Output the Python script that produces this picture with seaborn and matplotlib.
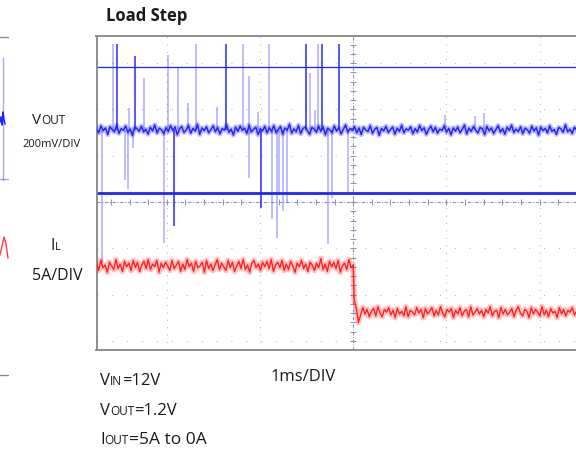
"""Load step scope capture: VOUT ripple and inductor current during a 5A -> 0A load release."""

import matplotlib
matplotlib.use("Agg")
import matplotlib.pyplot as plt
import numpy as np
import seaborn as sns

W, H = 576, 450

# Scope channel settings
VOUT_MV_PER_DIV = 200
IL_A_PER_DIV = 5
VOUT_POS_DIV = 1.555     # where the 1.2 V level sits on screen
IL_ZERO_DIV = -2.38      # 0 A level on screen

# VOUT ripple around 1.2 V (mV), sampled across the screen
vout_ripple_mv = [
    5, -12, 18, -3, 9, -20, 14, 2, -8, 21, -15, 6, -1, 17, -10, 4, -23, 11, 7, -6,
    16, -9, 3, -18, 12, -4, 22, -13, 8, 0, -16, 10, -7, 19, -2, 13, -21, 5, 15, -11,
    1, 20, -14, 7, -5, 24, -19, 9, -3, 14, -12, 2, 18, -8, 11, -17, 6, -1, 23, -10,
    4, -22, 13, -6, 17, -2, 8, -15, 21, -9, 3, 12, -20, 6, -4, 16, -13, 10, -7, 19,
    -11, 2, 15, -18, 9, -1, 25, -14, 5, -8, 20, -16, 7, 12, -3, -19, 11, 4, -10, 17,
    -6, 14, -21, 8, 1, -12, 18, -5, 10, -17, 3, 22, -9, 6, -2, 15, -13, 9, -20, 12,
    0, -7, 19, -15, 4, 11, -23, 7, -4, 16, -11, 2, 13, -18, 8, -6, 21, -12, 5, -1,
    14, -16, 6, -9, 20, -3, 10, -19, 1, 17, -8, 12, -14, 4, -2, 18, -10, 7, -21, 9,
    -5, 13, -12, 3, 22, -17, 8, -6, 15, -1, -13, 11, 5, -20, 16, -4, 9, -15, 2, 19,
    -9, 6, -18, 12, -2, 21, -11, 4, -7, 14, -16, 8, 1, -14, 17, -5, 10, -22, 13, -3,
    7, -13, 18, -6, 2, -19, 11, 5, -10, 23, -8, 3, -15, 12, -1, 16, -12, 6, -4, 20,
    -14, 9, -2, 15, -20, 4, 13, -7, 1, -16, 19, -9, 8, -3, 12, -18, 5, 10, -11, 3,
]

# VOUT switching spikes: time (ms) and peak excursion (mV)
spike_t_ms = [
    -2.695, -2.577, -2.534, -2.445, -2.416, -2.402, -2.362, -2.338, -2.245, -2.027,
    -1.987, -1.920, -1.880, -1.769, -1.684, -1.462, -1.362, -1.183, -1.118, -1.118,
    -1.019, -0.990, -0.901, -0.872, -0.818, -0.794, -0.751, -0.708, -0.504, -0.461,
    -0.408, -0.375, -0.336, -0.268, -0.225, -0.150, -0.054, 0.987, 1.308, 1.405,
]
spike_peak_mv = [
    -575, 370, 370, -216, -255, 95, -78, 320, 225, -488,
    324, -415, 268, 117, 370, 99, 370, 370, 233, -207,
    78, -337, 370, -384, -467, -281, -350, -315, 370, 246,
    86, 370, 370, -492, -294, 370, -281, 65, 61, 74,
]

# Inductor current: level (A) and noise on it (A), before and after t = 0
il_level_before_a = 5.0
il_level_after_a = 0.0
il_noise_before_a = [
    0.3, -0.5, 0.6, -0.2, 0.1, -0.7, 0.4, 0.0, -0.4, 0.7, -0.3, 0.2, -0.6, 0.5, -0.1, 0.3, -0.5, 0.6, -0.2, 0.4,
    -0.6, 0.1, 0.5, -0.3, 0.7, -0.4, 0.2, -0.1, 0.6, -0.7, 0.3, -0.2, 0.4, 0.0, -0.5, 0.6, -0.3, 0.1, 0.5, -0.6,
    0.2, -0.4, 0.7, -0.1, 0.3, -0.6, 0.5, -0.2, 0.0, 0.4, -0.7, 0.6, -0.3, 0.2, -0.5, 0.1, 0.7, -0.4, 0.3, -0.1,
    -0.5, 0.6, -0.2, 0.4, -0.6, 0.0, 0.5, -0.3, 0.7, -0.4, 0.1, -0.7, 0.3, 0.6, -0.2, 0.2, -0.5, 0.4, -0.1, 0.5,
    -0.3, 0.7, -0.6, 0.1, 0.4, -0.2, 0.6, -0.5, 0.2, -0.4, 0.5, 0.0, -0.7, 0.3, -0.1, 0.6, -0.3, 0.2, -0.6, 0.4,
    0.1, -0.5, 0.3, -0.2, 0.8, -0.4, 0.2, -0.6, 0.5, -0.1, 0.4, -0.3, 0.6, -0.7, 0.0, 0.3, -0.4, 0.7, -0.2, 0.1,
]
il_noise_after_a = [
    1.4, 0.4, -1.1, -0.3, 0.5, -0.2, 0.3, -0.5, 0.1, 0.4, -0.4, 0.6, -0.1, -0.5, 0.3, 0.0, 0.5, -0.3, 0.2, -0.6,
    0.4, -0.2, 0.1, -0.4, 0.6, -0.5, 0.2, 0.0, -0.3, 0.5, -0.1, 0.3, -0.6, 0.4, -0.2, 0.1, 0.5, -0.4, 0.2, -0.3,
    0.6, -0.1, -0.5, 0.3, 0.0, 0.4, -0.6, 0.2, -0.2, 0.5, -0.4, 0.1, 0.3, -0.5, 0.6, -0.3, 0.0, 0.4, -0.2, 0.2,
    -0.5, 0.3, -0.1, 0.6, -0.4, 0.1, 0.2, -0.6, 0.5, -0.2, 0.3, -0.3, 0.0, 0.4, -0.5, 0.2, 0.6, -0.1, -0.4, 0.3,
    0.1, -0.6, 0.5, -0.2, 0.3, 0.0, -0.4, 0.6, -0.3, 0.2, -0.5, 0.4, -0.1, 0.1, -0.6, 0.5, -0.2, 0.3, -0.4, 0.2,
    0.0, 0.5, -0.3, 0.1, -0.5, 0.4, -0.2, 0.6, -0.6, 0.2, 0.3, -0.4, 0.1, -0.1, 0.5, -0.3, 0.2, -0.5, 0.4, 0.0,
    -0.2, 0.6, -0.4, 0.2, 0.1, -0.5, 0.3, -0.1, 0.5, -0.3,
]

# Cursor lines (div)
cursor_thin_div = 2.92
cursor_thick_div = 0.19

# Edge of the neighbouring capture that is cut off on the left (pixels)
frag_blue_x = [0, 1, 2, 3, 4, 5]
frag_blue_y = [122, 117, 125, 112, 120, 124]
frag_red_x = [0, 2, 4, 6, 8]
frag_red_y = [255, 246, 237, 244, 258]

BLUE = "#2424ff"
RED = "#ff1010"
GRID = "#a4aac0"
TEXT = "#1a1a1a"

sns.set_theme(style="white")
plt.rcParams["font.family"] = ["Open Sans", "DejaVu Sans"]

fig = plt.figure(figsize=(W / 100, H / 100), dpi=100)
fig.patch.set_facecolor("white")

# main screen; extends past the right edge of the picture like the crop
x0, x1 = -2.755, 3.0
y0, y1 = -3.197, 3.596
left_px, right_px = 96.5, 353 + x1 * 93.25
ax = fig.add_axes([left_px / W, (H - 350) / H, (right_px - left_px) / W, (350 - 35.5) / H])
ax.set_xlim(x0, x1)
ax.set_ylim(y0, y1)
ax.set_xticks([])
ax.set_yticks([])
for sp in ax.spines.values():
    sp.set_color("#858585")
    sp.set_linewidth(1.3)

# graticule
for t in [-2, -1, 1, 2]:
    ax.axvline(t, color=GRID, lw=0.8, ls=(0, (0.8, 5.9)), zorder=0)
for d in [-3, -2, -1, 1, 2, 3]:
    ax.axhline(d, color=GRID, lw=0.8, ls=(0, (0.8, 12.6)), zorder=0)
ax.axhline(0, color="#8d93aa", lw=0.8, ls=(0, (3, 1.5, 0.8, 1.5)), zorder=0)
ax.axvline(0, color="#8d93aa", lw=0.8, ls=(0, (3, 1.5, 0.8, 1.5)), zorder=0)
ticks_h = np.arange(-2.6, 3.0, 0.2)
ticks_v = np.arange(-3.0, 3.6, 0.2)
ax.plot(ticks_h, np.zeros(len(ticks_h)), ls="none", marker="|", ms=4, mew=0.7,
        color="#8d93aa", zorder=0)
ax.plot(np.zeros(len(ticks_v)), ticks_v, ls="none", marker="_", ms=4, mew=0.7,
        color="#8d93aa", zorder=0)

# cursors
ax.axhline(cursor_thin_div, color=BLUE, lw=0.9, zorder=1)
ax.axhline(cursor_thick_div, color=BLUE, lw=2.0, zorder=1)

# VOUT spikes
bright = {2, 7, 11, 16, 21, 28, 32, 35}
for i, (t, pk) in enumerate(zip(spike_t_ms, spike_peak_mv)):
    ax.vlines(t, VOUT_POS_DIV, VOUT_POS_DIV + pk / VOUT_MV_PER_DIV,
              color=BLUE, lw=1.2, alpha=0.9 if i in bright else 0.35, zorder=2)

# VOUT trace
vout_t = np.linspace(x0, x1, len(vout_ripple_mv))
vout_div = VOUT_POS_DIV + np.array(vout_ripple_mv) / VOUT_MV_PER_DIV
sns.lineplot(x=vout_t, y=vout_div, ax=ax, color=BLUE, lw=3.6, alpha=0.3,
             estimator=None, sort=False, zorder=3)
sns.lineplot(x=vout_t, y=vout_div, ax=ax, color=BLUE, lw=1.1,
             estimator=None, sort=False, zorder=4)

# inductor current
il_t = np.concatenate([np.linspace(x0, 0.0, len(il_noise_before_a)),
                       np.linspace(0.01, x1, len(il_noise_after_a))])
il_a = np.concatenate([il_level_before_a + np.array(il_noise_before_a),
                       il_level_after_a + np.array(il_noise_after_a)])
il_div = IL_ZERO_DIV + il_a / IL_A_PER_DIV
sns.lineplot(x=il_t, y=il_div, ax=ax, color=RED, lw=4.0, alpha=0.25,
             estimator=None, sort=False, zorder=3)
sns.lineplot(x=il_t, y=il_div, ax=ax, color=RED, lw=1.0, alpha=0.9,
             estimator=None, sort=False, zorder=4)

# cut-off neighbour on the far left
axl = fig.add_axes([0, 0, 12 / W, 1])
axl.set_xlim(0, 12)
axl.set_ylim(H, 0)
axl.axis("off")
axl.plot([0, 8], [37, 37], color="#8a8a8a", lw=1)
axl.plot([0, 8], [375, 375], color="#8a8a8a", lw=1)
axl.plot([3, 3], [58, 180], color=BLUE, lw=1, alpha=0.4)
axl.plot([0, 8], [179, 179], color=BLUE, lw=1, alpha=0.4)
axl.plot(frag_blue_x, frag_blue_y, color=BLUE, lw=1.2)
axl.plot(frag_red_x, frag_red_y, color=RED, lw=1.0, alpha=0.8)


def label(x_px, y_px, parts, weight="normal"):
    """Place text pieces side by side on one baseline (pixel coordinates)."""
    renderer = fig.canvas.get_renderer()
    x = x_px
    for s, size in parts:
        t = fig.text(x / W, 1 - y_px / H, s, fontsize=size, ha="left", va="baseline",
                     color=TEXT, fontweight=weight)
        x += t.get_window_extent(renderer).width


label(106, 21, [("Load Step", 12)], weight="bold")
label(32, 124, [("V", 11), ("OUT", 8.5)])
label(22, 147, [("200mV/DIV", 8)])
label(51, 250, [("I", 11.5), ("L", 8)])
label(32, 280, [("5A/DIV", 11.5)])
label(100, 385, [("V", 12), ("IN", 8.5), ("=12V", 12)])
label(100, 415, [("V", 12), ("OUT", 8.5), ("=1.2V", 12)])
label(100, 444, [("I", 12), ("OUT", 8.5), ("=5A to 0A", 12.5)])
label(271, 381, [("1ms/DIV", 12)])

fig.savefig("out.png", dpi=100)
plt.close(fig)
